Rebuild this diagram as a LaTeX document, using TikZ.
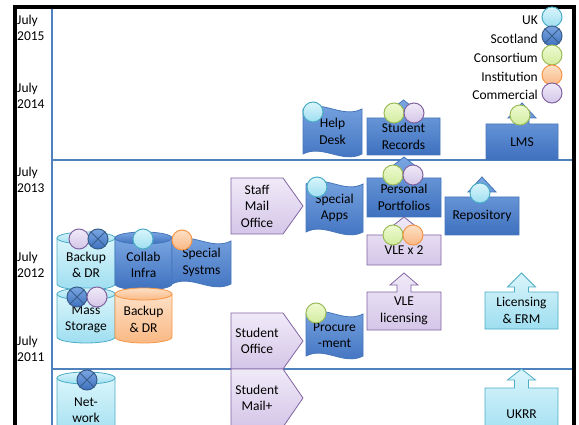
\documentclass[tikz,border=0pt]{standalone}
\usepackage{fontspec}
\setmainfont{Carlito}
\usetikzlibrary{calc}

\definecolor{bluetop}{RGB}{122,166,226}
\definecolor{bluebot}{RGB}{62,112,190}
\definecolor{blueedge}{RGB}{70,118,186}
\definecolor{cyantop}{RGB}{218,245,251}
\definecolor{cyanbot}{RGB}{158,222,240}
\definecolor{cyanedge}{RGB}{75,172,198}
\definecolor{purptop}{RGB}{240,234,248}
\definecolor{purpbot}{RGB}{212,198,232}
\definecolor{purpedge}{RGB}{128,100,162}
\definecolor{orantop}{RGB}{253,224,198}
\definecolor{oranbot}{RGB}{250,184,132}
\definecolor{oranedge}{RGB}{247,150,70}
\definecolor{greentop}{RGB}{238,250,208}
\definecolor{greenbot}{RGB}{210,236,160}
\definecolor{greenedge}{RGB}{155,187,89}
\definecolor{scotedge}{RGB}{56,93,138}
\definecolor{yearline}{RGB}{79,129,189}

\tikzset{
  blueshape/.style={draw=blueedge, top color=bluetop, bottom color=bluebot, line width=0.8pt},
  cyanshape/.style={draw=cyanedge, top color=cyantop, bottom color=cyanbot, line width=0.8pt},
  purpshape/.style={draw=purpedge, top color=purptop, bottom color=purpbot, line width=0.8pt},
  oranshape/.style={draw=oranedge, top color=orantop, bottom color=oranbot, line width=0.8pt},
  lbl/.style={align=center, inner sep=0pt, font=\fontsize{13.5}{16.5}\selectfont},
  badge/.style={circle, minimum size=20pt, inner sep=0pt, line width=1pt},
  ukdot/.style={badge, draw=cyanedge, top color=cyantop, bottom color=cyanbot},
  scotdot/.style={badge, draw=scotedge, top color=bluetop, bottom color=bluebot},
  consdot/.style={badge, draw=greenedge, top color=greentop, bottom color=greenbot},
  instdot/.style={badge, draw=oranedge, top color=orantop, bottom color=oranbot},
  commdot/.style={badge, draw=purpedge, top color=purptop, bottom color=purpbot},
  yearrule/.style={draw=yearline, line width=1.8pt},
}

% cylinder: style, x0, y0, x1, y1, name, text
\newcommand{\drum}[7]{%
  \path[#1] (#2,#3+6) -- (#2,#5-6)
     arc[start angle=180, end angle=0, x radius={(#4-#2)/2}, y radius=6]
     -- (#4,#3+6) -- cycle;
  \path[#1] ({(#2+#4)/2},#3+6) ellipse[x radius={(#4-#2)/2}, y radius=6];
  \node[lbl] (#6) at ({(#2+#4)/2},{(#3+#5)/2+4}) {#7};
}
% wave: style, x0, y0, x1, y1, name, text
\newcommand{\wave}[7]{%
  \path[#1] (#2,#3+6) .. controls ({#2+(#4-#2)/3},#3-4) and ({#2+2*(#4-#2)/3},#3+16) .. (#4,#3+6)
     -- (#4,#5-6) .. controls ({#2+2*(#4-#2)/3},#5+4) and ({#2+(#4-#2)/3},#5-16) .. (#2,#5-6) -- cycle;
  \node[lbl] (#6) at ({(#2+#4)/2},{(#3+#5)/2}) {#7};
}
% home plate: style, x0, y0, x-body, x-point, y1, name, text
\newcommand{\homeplate}[8]{%
  \path[#1] (#2,#3) -- (#4,#3) -- (#5,{(#3+#6)/2}) -- (#4,#6) -- (#2,#6) -- cycle;
  \node[lbl] (#7) at ({(#2+#4)/2},{(#3+#6)/2}) {#8};
}
% box with an arrow on top: style, x0, y0, x1, y1, tip, head base, name, text
\newcommand{\upbox}[9]{%
  \path[#1] (#2,#3) -- ({(#2+#4)/2-7},#3) -- ({(#2+#4)/2-7},#7) -- ({(#2+#4)/2-14},#7)
     -- ({(#2+#4)/2},#6) -- ({(#2+#4)/2+14},#7) -- ({(#2+#4)/2+7},#7) -- ({(#2+#4)/2+7},#3)
     -- (#4,#3) -- (#4,#5) -- (#2,#5) -- cycle;
  \node[lbl] (#8) at ({(#2+#4)/2},{(#3+#5)/2}) {#9};
}
% scotland badge with its cross
\newcommand{\scot}[3]{%
  \node[scotdot] (#1) at (#2,#3) {};
  \draw[scotedge, line width=0.8pt] (#1.north east) -- (#1.south west) (#1.north west) -- (#1.south east);
}

\begin{document}
\begin{tikzpicture}[x=1pt,y=-1pt]
    \useasboundingbox (0,0) rectangle (579,425);
	%the frame and the year rules
    \draw[yearrule] (52,7) -- (52,425);
    \draw[yearrule] (52,160) -- (574,160);
    \draw[yearrule] (52,369) -- (574,369);
    \draw[line width=4pt] (14.5,425) -- (14.5,7) -- (574,7) -- (574,425);

    \node[lbl, anchor=west, align=left] (y2015) at (17,28) {July\\2015};
    \node[lbl, anchor=west, align=left] (y2014) at (17,96) {July\\2014};
    \node[lbl, anchor=west, align=left] (y2013) at (17,180) {July\\2013};
    \node[lbl, anchor=west, align=left] (y2012) at (17,265) {July\\2012};
    \node[lbl, anchor=west, align=left] (y2011) at (17,349) {July\\2011};

	%storage and infrastructure
    \drum{cyanshape}{57}{232}{115}{290}{backup}{Backup\\\& DR}
    \drum{blueshape}{115}{232}{172}{290}{collab}{Collab\\Infra}
    \wave{blueshape}{172}{235}{231}{290}{systms}{Special\\Systms}
    \drum{cyanshape}{57}{288}{115}{343}{mass}{Mass\\Storage}
    \drum{oranshape}{115}{288}{172}{343}{backupb}{Backup\\\& DR}
    \drum{cyanshape}{57}{372}{115}{440}{network}{Net-\\work}

	%mail and office
    \homeplate{purpshape}{231}{178}{283}{303}{234}{staffmail}{Staff\\Mail\\Office}
    \homeplate{purpshape}{231}{313}{283}{303}{369}{studoffice}{Student\\Office}
    \homeplate{purpshape}{231}{369}{283}{303}{427}{studmail}{Student\\Mail+}

	%waves
    \wave{blueshape}{303}{103}{362}{160}{helpdesk}{Help\\Desk}
    \wave{blueshape}{306}{178}{363}{238}{specapps}{Special\\Apps}
    \wave{blueshape}{306}{308}{363}{362}{procure}{Procure\\-ment}

	%boxes with arrows
    \upbox{blueshape}{367}{118}{440}{155}{100}{111}{records}{Student\\Records}
    \upbox{blueshape}{486}{124}{558}{160}{103}{118}{lms}{LMS}
    \upbox{blueshape}{367}{178}{441}{217}{157}{168}{portfolios}{Personal\\Portfolios}
    \upbox{blueshape}{445}{197}{519}{235}{177}{192}{repository}{Repository}
    \upbox{purpshape}{367}{235}{441}{265}{217}{228}{vle}{VLE x 2}
    \upbox{purpshape}{367}{292}{441}{330}{273}{285}{vlelic}{VLE\\licensing}
    \upbox{cyanshape}{485}{292}{558}{329}{273}{287}{erm}{Licensing\\\& ERM}
    \upbox{cyanshape}{485}{388}{558}{440}{369}{380}{ukrr}{UKRR}

	%badges
    \node[ukdot] (helpdesk-uk) at (313,112) {};
    \node[consdot] (records-cons) at (394,113) {};
    \node[commdot] (records-comm) at (414,113) {};
    \node[consdot] (lms-cons) at (520,115) {};
    \node[consdot] (portfolios-cons) at (393,175) {};
    \node[commdot] (portfolios-comm) at (413,175) {};
    \node[ukdot] (specapps-uk) at (317,187) {};
    \node[ukdot] (repository-uk) at (480,193) {};
    \node[consdot] (vle-cons) at (393,235) {};
    \node[instdot] (vle-inst) at (413,235) {};
    \node[consdot] (procure-cons) at (316,313) {};
    \node[commdot] (backup-comm) at (79,239) {};
    \scot{backup-scot}{98}{239}
    \node[ukdot] (collab-uk) at (143,239) {};
    \node[instdot] (systms-inst) at (182,240) {};
    \scot{mass-scot}{77}{297}
    \node[commdot] (mass-comm) at (97,297) {};
    \scot{network-scot}{87}{380}

	%legend
    \node[lbl, anchor=east] (lg-uk) at (538,20) {UK};
    \node[lbl, anchor=east] (lg-scot) at (538,39) {Scotland};
    \node[lbl, anchor=east] (lg-cons) at (538,58) {Consortium};
    \node[lbl, anchor=east] (lg-inst) at (538,77) {Institution};
    \node[lbl, anchor=east] (lg-comm) at (538,95) {Commercial};
    \node[ukdot] (dot-uk) at (552,17) {};
    \scot{dot-scot}{552}{36}
    \node[consdot] (dot-cons) at (552,55) {};
    \node[instdot] (dot-inst) at (552,75) {};
    \node[commdot] (dot-comm) at (552,93) {};
\end{tikzpicture}
\end{document}
